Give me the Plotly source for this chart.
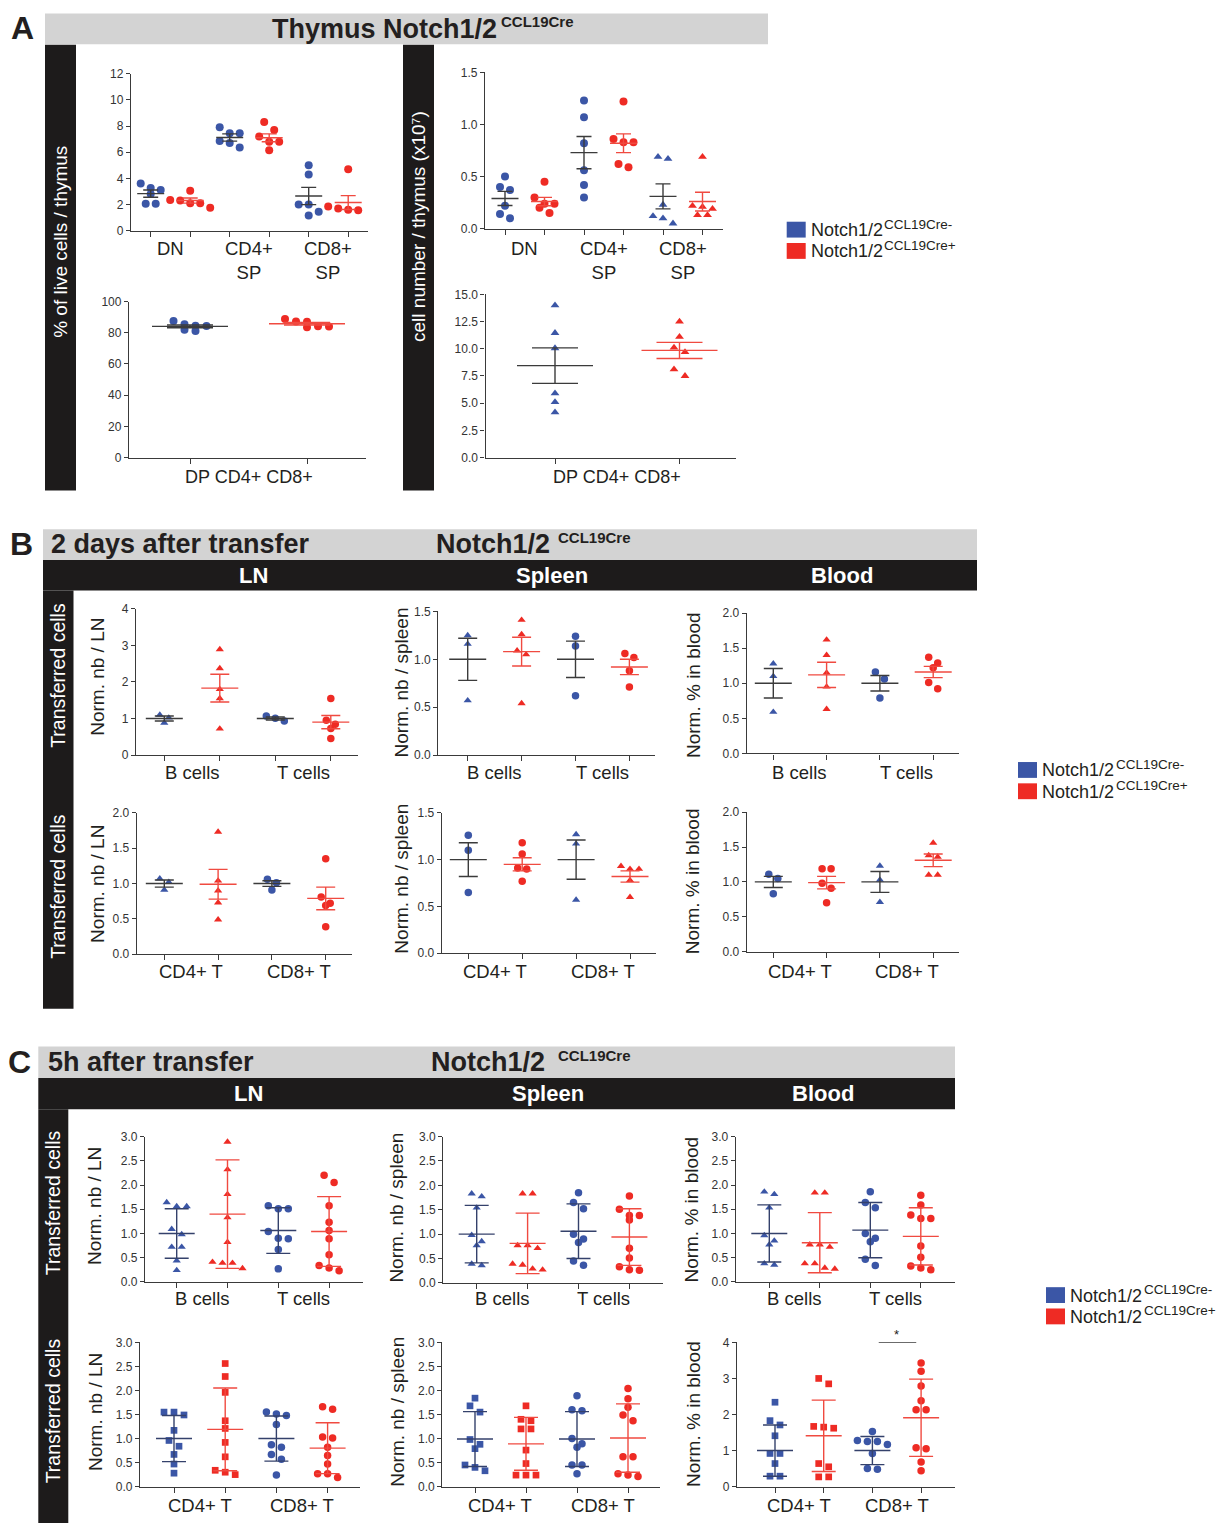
import plotly.graph_objects as go

W, H = 1228, 1530

# ------------------------------------------------------------------
# Data: Notch1/2 CCL19Cre- ("neg") vs Notch1/2 CCL19Cre+ ("pos")
# Each list holds one inner list of animals per category.
# ------------------------------------------------------------------

# A - thymus (mean +/- SEM)
thy_cats = ["DN", "CD4+<br>SP", "CD8+<br>SP"]
thy_pct_ticks = [0, 2, 4, 6, 8, 10, 12]
thy_pct_neg = [[3.6, 3.25, 3.1, 2.8, 2.05, 2.05],
               [7.9, 7.45, 7.45, 6.85, 6.7, 6.35],
               [5.0, 4.3, 2.0, 2.0, 1.45, 1.15]]
thy_pct_pos = [[3.05, 2.35, 2.3, 2.1, 2.1, 1.75],
               [8.3, 7.7, 7.2, 6.8, 6.8, 6.15],
               [4.7, 1.85, 1.7, 1.6, 1.55, 1.45]]
thy_pct_neg_mean = [2.83, 7.12, 2.65]
thy_pct_neg_err = [0.28, 0.28, 0.66]
thy_pct_pos_mean = [2.3, 7.1, 2.15]
thy_pct_pos_err = [0.2, 0.3, 0.53]

thy_num_ticks = [0.0, 0.5, 1.0, 1.5]
thy_num_neg = [[0.50, 0.40, 0.37, 0.22, 0.14, 0.10],
               [1.23, 1.07, 0.82, 0.56, 0.42, 0.30],
               [0.69, 0.67, 0.23, 0.12, 0.10, 0.05]]
thy_num_pos = [[0.45, 0.30, 0.24, 0.24, 0.20, 0.15],
               [1.22, 0.86, 0.83, 0.83, 0.62, 0.59],
               [0.69, 0.22, 0.21, 0.19, 0.13, 0.13]]
thy_num_neg_mean = [0.29, 0.73, 0.31]
thy_num_neg_err = [0.068, 0.155, 0.12]
thy_num_pos_mean = [0.26, 0.82, 0.26]
thy_num_pos_err = [0.04, 0.09, 0.09]

dp_cats = ["DP CD4+ CD8+"]
dp_pct_ticks = [0, 20, 40, 60, 80, 100]
dp_pct_neg = [[87.5, 85.5, 84.5, 84.3, 82.0, 81.2]]
dp_pct_pos = [[88.8, 87.2, 87.0, 84.2, 84.0, 83.5]]
dp_pct_neg_mean = [84.1]
dp_pct_neg_err = [0.9]
dp_pct_pos_mean = [85.8]
dp_pct_pos_err = [0.8]

dp_num_ticks = [0.0, 2.5, 5.0, 7.5, 10.0, 12.5, 15.0]
dp_num_neg = [[14.0, 11.45, 10.05, 5.9, 5.1, 4.15]]
dp_num_pos = [[12.5, 11.1, 10.1, 9.7, 8.1, 7.5]]
dp_num_neg_mean = [8.45]
dp_num_neg_err = [1.63]
dp_num_pos_mean = [9.85]
dp_num_pos_err = [0.74]

# B - 2 days after transfer (mean +/- SEM)
bt_cats = ["B cells", "T cells"]
cd_cats = ["CD4+ T", "CD8+ T"]
ticks_0_4 = [0, 1, 2, 3, 4]
ticks_0_15 = [0.0, 0.5, 1.0, 1.5]
ticks_0_2 = [0.0, 0.5, 1.0, 1.5, 2.0]
ticks_0_3 = [0.0, 0.5, 1.0, 1.5, 2.0, 2.5, 3.0]

d2_ln_bt_neg = [[1.10, 1.02, 0.88], [1.07, 1.01, 0.93]]
d2_ln_bt_pos = [[2.89, 2.37, 1.80, 1.55, 0.72], [1.55, 0.95, 0.84, 0.73, 0.45]]
d2_ln_bt_neg_mean = [1.0, 1.0]
d2_ln_bt_neg_err = [0.07, 0.04]
d2_ln_bt_pos_mean = [1.83, 0.90]
d2_ln_bt_pos_err = [0.38, 0.18]

d2_spl_bt_neg = [[1.25, 1.16, 0.57], [1.24, 1.14, 0.62]]
d2_spl_bt_pos = [[1.41, 1.26, 1.09, 1.05, 0.54], [1.06, 1.02, 0.88, 0.71]]
d2_spl_bt_neg_mean = [1.0, 1.0]
d2_spl_bt_neg_err = [0.22, 0.19]
d2_spl_bt_pos_mean = [1.08, 0.92]
d2_spl_bt_pos_err = [0.15, 0.08]

d2_bld_bt_neg = [[1.28, 1.10, 0.59], [1.16, 1.06, 0.79]]
d2_bld_bt_pos = [[1.62, 1.40, 1.15, 0.95, 0.63], [1.37, 1.29, 1.22, 1.01, 0.92]]
d2_bld_bt_neg_mean = [1.0, 1.0]
d2_bld_bt_neg_err = [0.21, 0.11]
d2_bld_bt_pos_mean = [1.12, 1.16]
d2_bld_bt_pos_err = [0.18, 0.08]

d2_ln_cd_neg = [[1.07, 1.02, 0.91], [1.06, 1.01, 0.91]]
d2_ln_cd_pos = [[1.73, 1.04, 0.90, 0.73, 0.49], [1.35, 0.81, 0.72, 0.69, 0.39]]
d2_ln_cd_neg_mean = [1.0, 1.0]
d2_ln_cd_neg_err = [0.05, 0.04]
d2_ln_cd_pos_mean = [0.99, 0.79]
d2_ln_cd_pos_err = [0.21, 0.16]

d2_spl_cd_neg = [[1.26, 1.10, 0.65], [1.27, 1.17, 0.57]]
d2_spl_cd_pos = [[1.18, 1.06, 0.91, 0.90, 0.77], [0.93, 0.90, 0.90, 0.78, 0.60]]
d2_spl_cd_neg_mean = [1.0, 1.0]
d2_spl_cd_neg_err = [0.18, 0.21]
d2_spl_cd_pos_mean = [0.95, 0.82]
d2_spl_cd_pos_err = [0.07, 0.06]

d2_bld_cd_neg = [[1.11, 1.05, 0.83], [1.23, 1.03, 0.71]]
d2_bld_cd_pos = [[1.19, 1.19, 0.98, 0.91, 0.70], [1.56, 1.38, 1.36, 1.10, 1.10]]
d2_bld_cd_neg_mean = [1.0, 1.0]
d2_bld_cd_neg_err = [0.08, 0.15]
d2_bld_cd_pos_mean = [0.99, 1.31]
d2_bld_cd_pos_err = [0.09, 0.09]

# C - 5 h after transfer (mean +/- SD)
h5_ln_bt_neg = [[1.64, 1.56, 1.56, 1.09, 0.98, 0.72, 0.72, 0.44, 0.24],
                [1.57, 1.51, 1.51, 1.04, 0.90, 0.89, 0.67, 0.27]]
h5_ln_bt_pos = [[2.89, 2.32, 1.81, 1.33, 0.82, 0.41, 0.39, 0.39, 0.28],
                [2.20, 2.05, 1.57, 1.23, 1.06, 0.89, 0.56, 0.34, 0.29, 0.23]]
h5_ln_bt_neg_mean = [1.0, 1.06]
h5_ln_bt_neg_err = [0.51, 0.47]
h5_ln_bt_pos_mean = [1.40, 1.04]
h5_ln_bt_pos_err = [1.12, 0.72]

h5_spl_bt_neg = [[1.83, 1.77, 1.54, 0.98, 0.85, 0.77, 0.39, 0.36],
                 [1.85, 1.65, 1.52, 1.00, 0.90, 0.83, 0.45, 0.36]]
h5_spl_bt_pos = [[1.83, 1.83, 0.77, 0.77, 0.71, 0.39, 0.37, 0.29, 0.27],
                 [1.78, 1.51, 1.38, 1.38, 1.29, 0.71, 0.51, 0.33, 0.27, 0.26]]
h5_spl_bt_neg_mean = [1.0, 1.06]
h5_spl_bt_neg_err = [0.59, 0.56]
h5_spl_bt_pos_mean = [0.81, 0.94]
h5_spl_bt_pos_err = [0.62, 0.58]

h5_bld_bt_neg = [[1.86, 1.81, 1.53, 0.96, 0.85, 0.77, 0.38, 0.35],
                 [1.86, 1.64, 1.53, 1.00, 0.90, 0.83, 0.47, 0.34]]
h5_bld_bt_pos = [[1.84, 1.84, 0.77, 0.77, 0.72, 0.38, 0.38, 0.29, 0.27],
                 [1.79, 1.59, 1.38, 1.31, 1.31, 0.74, 0.51, 0.33, 0.29, 0.25]]
h5_bld_bt_neg_mean = [1.0, 1.07]
h5_bld_bt_neg_err = [0.59, 0.57]
h5_bld_bt_pos_mean = [0.81, 0.94]
h5_bld_bt_pos_err = [0.62, 0.59]

h5_ln_cd_neg = [[1.55, 1.55, 1.49, 1.17, 0.96, 0.84, 0.67, 0.47, 0.28],
                [1.55, 1.51, 1.48, 1.29, 0.87, 0.82, 0.67, 0.57, 0.24]]
h5_ln_cd_pos = [[2.56, 2.29, 1.96, 1.37, 1.21, 0.92, 0.62, 0.34, 0.30, 0.25],
                [1.66, 1.61, 1.03, 1.01, 0.82, 0.65, 0.47, 0.27, 0.27, 0.19]]
h5_ln_cd_neg_mean = [1.0, 1.0]
h5_ln_cd_neg_err = [0.48, 0.47]
h5_ln_cd_pos_mean = [1.19, 0.80]
h5_ln_cd_pos_err = [0.86, 0.53]

h5_spl_cd_neg = [[1.84, 1.68, 1.55, 0.98, 0.88, 0.79, 0.45, 0.40, 0.33],
                 [1.89, 1.60, 1.58, 1.00, 0.89, 0.82, 0.45, 0.45, 0.27]]
h5_spl_cd_pos = [[1.68, 1.40, 1.37, 1.20, 1.20, 0.76, 0.48, 0.24, 0.24, 0.24],
                 [2.04, 1.83, 1.65, 1.49, 1.37, 0.62, 0.62, 0.27, 0.24, 0.21]]
h5_spl_cd_neg_mean = [0.99, 0.99]
h5_spl_cd_neg_err = [0.57, 0.57]
h5_spl_cd_pos_mean = [0.89, 1.01]
h5_spl_cd_pos_err = [0.55, 0.71]

h5_bld_cd_ticks = [0, 1, 2, 3, 4]
h5_bld_cd_neg = [[2.34, 1.83, 1.71, 1.41, 0.92, 0.92, 0.64, 0.29, 0.29],
                 [1.53, 1.28, 1.25, 1.25, 1.17, 0.92, 0.50, 0.48]]
h5_bld_cd_pos = [[3.00, 2.85, 1.67, 1.65, 1.62, 0.64, 0.55, 0.27, 0.27],
                 [3.43, 3.20, 2.79, 2.38, 2.13, 2.13, 1.08, 1.05, 0.68, 0.44]]
h5_bld_cd_neg_mean = [1.0, 1.0]
h5_bld_cd_neg_err = [0.71, 0.39]
h5_bld_cd_pos_mean = [1.41, 1.91]
h5_bld_cd_pos_err = [0.99, 1.07]

legend_labels = ["Notch1/2", "Notch1/2"]
legend_sups = ["CCL19Cre-", "CCL19Cre+"]

# ------------------------------------------------------------------
# Styling
# ------------------------------------------------------------------
FONT = "Liberation Sans, Arial, Helvetica, sans-serif"
INK = "#231f20"
AXIS = "#3a3a3a"
BLUE = "#3b56a6"
RED = "#ee2b24"
BAND_GRAY = "#d3d3d3"
BAND_BLACK = "#1d1b1b"

STYLE_A_TOP = dict(msize=8, dx=10, hw=13.5, cap=7.5, neg_line="#3b3b3b", pos_line="#f04a40", lw=1.4)
STYLE_A_BOT = dict(msize=8, dx=11, hw=38, cap=23, neg_line="#3b3b3b", pos_line="#f04a40", lw=1.4)
STYLE_B = dict(msize=7.5, dx=9, hw=18.5, cap=9.5, neg_line="#3b3b3b", pos_line="#f04a40", lw=1.4)
STYLE_C = dict(msize=7.5, dx=10, hw=18, cap=12, neg_line="#34416b", pos_line="#f04a40", lw=1.4)
SYM_ADJ = {"circle": 0.0, "triangle-up": -0.3, "square": -0.8}


def X(p):
    return p / W


def Y(p):
    return 1 - p / H


fig = go.Figure()
shapes = []
annos = []
n_axes = [0]


def swarm(vals, step, thr):
    """Column-scatter offsets: points closer than thr in y share a row."""
    order = sorted(range(len(vals)), key=lambda i: -vals[i])
    rows = []
    for i in order:
        if rows and rows[-1][0] - vals[i] < thr:
            rows[-1][1].append(i)
        else:
            rows.append([vals[i], [i]])
    off = [0.0] * len(vals)
    for _, idx in rows:
        n = len(idx)
        for k, i in enumerate(idx):
            off[i] = (k - (n - 1) / 2) * step
    return off


def text(x, y, s, size, color=INK, bold=False, angle=0, xanchor="center", yanchor="middle"):
    if bold:
        s = "<b>" + s + "</b>"
    annos.append(dict(x=X(x), y=Y(y), xref="paper", yref="paper", text=s, showarrow=False,
                      textangle=angle, xanchor=xanchor, yanchor=yanchor,
                      font=dict(family=FONT, size=size, color=color)))


def rect(x0, y0, x1, y1, color):
    shapes.append(dict(type="rect", xref="paper", yref="paper", x0=X(x0), x1=X(x1),
                       y0=Y(y1), y1=Y(y0), fillcolor=color, line=dict(width=0), layer="below"))


def add_plot(box, t0, sp, yticks, decimals, cats, neg, pos, neg_m, neg_e, pos_m, pos_e,
             symbols, st, cat_y, cat_anchor="middle", cat_size=18.5):
    n_axes[0] += 1
    n = n_axes[0]
    xs = "x" if n == 1 else f"x{n}"
    ys = "y" if n == 1 else f"y{n}"
    L, T, R, B = box
    yr = [yticks[0], yticks[-1]]
    ppu = (B - T) / (yr[1] - yr[0])
    npos = 2 * len(cats)
    fig.update_layout(**{
        ("xaxis" if n == 1 else f"xaxis{n}"): dict(
            domain=[X(L), X(R)], range=[(L - t0) / sp, (R - t0) / sp], anchor=ys,
            tickvals=list(range(npos)), showticklabels=False, ticks="outside", ticklen=5,
            tickwidth=1.2, tickcolor=AXIS, showline=True, linecolor=AXIS, linewidth=1.3,
            showgrid=False, zeroline=False, fixedrange=True),
        ("yaxis" if n == 1 else f"yaxis{n}"): dict(
            domain=[Y(B), Y(T)], range=yr, anchor=xs, tickvals=yticks,
            ticktext=[f"{v:.{decimals}f}" for v in yticks], ticks="outside", ticklen=4,
            tickwidth=1.2, tickcolor=AXIS, showline=True, linecolor=AXIS, linewidth=1.3,
            showgrid=False, zeroline=False, fixedrange=True,
            tickfont=dict(family=FONT, size=12, color="#333333")),
    })
    for k in range(len(cats)):
        sym = symbols[k]
        size = st["msize"] + SYM_ADJ[sym]
        groups = [(neg[k], neg_m[k], neg_e[k], BLUE, st["neg_line"]),
                  (pos[k], pos_m[k], pos_e[k], RED, st["pos_line"])]
        for j, (vals, m, e, col, lcol) in enumerate(groups):
            p = 2 * k + j
            off = swarm(vals, st["dx"] / sp, size / ppu)
            fig.add_trace(go.Scatter(
                x=[p + o for o in off], y=vals, mode="markers", xaxis=xs, yaxis=ys,
                marker=dict(symbol=sym, size=size, color=col, line=dict(width=0)),
                cliponaxis=False, hoverinfo="skip", showlegend=False))
            hw = st["hw"] / sp
            fig.add_trace(go.Scatter(
                x=[p - hw, p + hw], y=[m, m], mode="lines", xaxis=xs, yaxis=ys,
                line=dict(color=lcol, width=st["lw"]), cliponaxis=False,
                hoverinfo="skip", showlegend=False))
            fig.add_trace(go.Scatter(
                x=[p], y=[m], mode="markers", xaxis=xs, yaxis=ys,
                marker=dict(size=1, color="rgba(0,0,0,0)"),
                error_y=dict(type="data", array=[e], symmetric=True, color=lcol,
                             thickness=st["lw"], width=st["cap"]),
                cliponaxis=False, hoverinfo="skip", showlegend=False))
        annos.append(dict(x=2 * k + 0.5, xref=xs, y=Y(cat_y), yref="paper", text=cats[k],
                          showarrow=False, xanchor="center", yanchor=cat_anchor,
                          font=dict(family=FONT, size=cat_size, color=INK)))
    return xs, ys


def add_legend(x, y_top):
    for i, col in enumerate([BLUE, RED]):
        y0 = y_top + i * 21.5
        rect(x, y0, x + 19, y0 + 16, col)
        text(x + 22, y0 + 8.5, legend_labels[i], 18, xanchor="left")
        text(x + 95.5, y0 + 2.5, legend_sups[i], 13.5, xanchor="left")


# ------------------------------------------------------------------
# Panel A - thymus
# ------------------------------------------------------------------
rect(45, 6.5, 768, 37.5, BAND_GRAY)
rect(45, 38, 76, 488, BAND_BLACK)
rect(403, 38, 434, 488, BAND_BLACK)
text(22, 21, "A", 32, bold=True)
text(270, 22, "Thymus Notch1/2", 27, bold=True, xanchor="left")
text(499, 15, "CCL19Cre", 15, bold=True, xanchor="left")
text(61, 237, "% of live cells / thymus", 19, color="white", angle=-90)
text(419, 222, "cell number / thymus (x10\u2077)", 19, color="white", angle=-90)

circ3 = ["circle", "circle", "circle"]
add_plot((131, 67.3, 368, 225.7), 150.7, 39.5, thy_pct_ticks, 0, thy_cats,
         thy_pct_neg, thy_pct_pos, thy_pct_neg_mean, thy_pct_neg_err,
         thy_pct_pos_mean, thy_pct_pos_err, circ3, STYLE_A_TOP, 231, "top")
add_plot((485, 66, 723, 223.7), 505, 39.5, thy_num_ticks, 1, thy_cats,
         thy_num_neg, thy_num_pos, thy_num_neg_mean, thy_num_neg_err,
         thy_num_pos_mean, thy_num_pos_err, ["circle", "circle", "triangle-up"],
         STYLE_A_TOP, 231, "top")
add_plot((129, 297.3, 366, 454.7), 190, 117, dp_pct_ticks, 0, dp_cats,
         dp_pct_neg, dp_pct_pos, dp_pct_neg_mean, dp_pct_neg_err,
         dp_pct_pos_mean, dp_pct_pos_err, ["circle"], STYLE_A_BOT, 474, cat_size=18)
add_plot((485.5, 290, 736, 454.7), 555, 124.5, dp_num_ticks, 1, dp_cats,
         dp_num_neg, dp_num_pos, dp_num_neg_mean, dp_num_neg_err,
         dp_num_pos_mean, dp_num_pos_err, ["triangle-up"], STYLE_A_BOT, 474, cat_size=18)
add_legend(786.7, 216.7)

# ------------------------------------------------------------------
# Panel B - 2 days after transfer
# ------------------------------------------------------------------
rect(43, 527, 977, 558, BAND_GRAY)
rect(43, 558, 977, 589, BAND_BLACK)
rect(43, 589, 73.5, 1011, BAND_BLACK)
text(21, 542, "B", 32, bold=True)
text(49, 542, "2 days after transfer", 27, bold=True, xanchor="left")
text(434, 542, "Notch1/2", 27, bold=True, xanchor="left")
text(556, 535, "CCL19Cre", 15, bold=True, xanchor="left")
for lx, lab in [(253, "LN"), (551.7, "Spleen"), (842.3, "Blood")]:
    text(lx, 574, lab, 22, color="white", bold=True)
text(58, 675, "Transferred cells", 19.5, color="white", angle=-90)
text(58, 888, "Transferred cells", 19.5, color="white", angle=-90)

tri_circ = ["triangle-up", "circle"]
add_plot((136, 607.3, 358, 755), 164.3, 55.5, ticks_0_4, 0, bt_cats,
         d2_ln_bt_neg, d2_ln_bt_pos, d2_ln_bt_neg_mean, d2_ln_bt_neg_err,
         d2_ln_bt_pos_mean, d2_ln_bt_pos_err, tri_circ, STYLE_B, 773)
add_plot((438.3, 610, 655, 755), 467.7, 53.9, ticks_0_15, 1, bt_cats,
         d2_spl_bt_neg, d2_spl_bt_pos, d2_spl_bt_neg_mean, d2_spl_bt_neg_err,
         d2_spl_bt_pos_mean, d2_spl_bt_pos_err, tri_circ, STYLE_B, 773)
add_plot((746.7, 611.7, 959.3, 753.3), 773.3, 53.3, ticks_0_2, 1, bt_cats,
         d2_bld_bt_neg, d2_bld_bt_pos, d2_bld_bt_neg_mean, d2_bld_bt_neg_err,
         d2_bld_bt_pos_mean, d2_bld_bt_pos_err, tri_circ, STYLE_B, 773)
add_plot((136.7, 813.3, 351.7, 956), 164.3, 53.8, ticks_0_2, 1, cd_cats,
         d2_ln_cd_neg, d2_ln_cd_pos, d2_ln_cd_neg_mean, d2_ln_cd_neg_err,
         d2_ln_cd_pos_mean, d2_ln_cd_pos_err, tri_circ, STYLE_B, 973)
add_plot((441.7, 813.3, 656, 955), 468.3, 53.9, ticks_0_15, 1, cd_cats,
         d2_spl_cd_neg, d2_spl_cd_pos, d2_spl_cd_neg_mean, d2_spl_cd_neg_err,
         d2_spl_cd_pos_mean, d2_spl_cd_pos_err, ["circle", "triangle-up"], STYLE_B, 973)
add_plot((746.7, 812.7, 959.3, 953.3), 773.3, 53.3, ticks_0_2, 1, cd_cats,
         d2_bld_cd_neg, d2_bld_cd_pos, d2_bld_cd_neg_mean, d2_bld_cd_neg_err,
         d2_bld_cd_pos_mean, d2_bld_cd_pos_err, ["circle", "triangle-up"], STYLE_B, 973)

for ty, yy in [("Norm. nb / LN", (98, 676)), ("Norm. nb / spleen", (401.7, 682)),
               ("Norm. % in blood", (693.3, 684)), ("Norm. nb / LN", (98, 885)),
               ("Norm. nb / spleen", (401.7, 880)), ("Norm. % in blood", (693.3, 882))]:
    text(yy[0], yy[1], ty, 19, angle=-90)
add_legend(1018, 762)

# ------------------------------------------------------------------
# Panel C - 5 h after transfer
# ------------------------------------------------------------------
rect(38.3, 1049, 955, 1081, BAND_GRAY)
rect(38.3, 1081, 955, 1112.5, BAND_BLACK)
rect(38.3, 1112.5, 68.3, 1530, BAND_BLACK)
text(19, 1065, "C", 32, bold=True)
text(46, 1065, "5h after transfer", 27, bold=True, xanchor="left")
text(429, 1065, "Notch1/2", 27, bold=True, xanchor="left")
text(556, 1058, "CCL19Cre", 15, bold=True, xanchor="left")
for lx, lab in [(248.3, "LN"), (548.3, "Spleen"), (822.7, "Blood")]:
    text(lx, 1097, lab, 22, color="white", bold=True)
text(53.3, 1207, "Transferred cells", 19.5, color="white", angle=-90)
text(53.3, 1417, "Transferred cells", 19.5, color="white", angle=-90)

sq_circ = ["square", "circle"]
add_plot((145, 1140, 363.3, 1286.7), 176.7, 50.8, ticks_0_3, 1, bt_cats,
         h5_ln_bt_neg, h5_ln_bt_pos, h5_ln_bt_neg_mean, h5_ln_bt_neg_err,
         h5_ln_bt_pos_mean, h5_ln_bt_pos_err, tri_circ, STYLE_C, 1303)
add_plot((443.3, 1140, 663.3, 1287.7), 476.7, 50.9, ticks_0_3, 1, bt_cats,
         h5_spl_bt_neg, h5_spl_bt_pos, h5_spl_bt_neg_mean, h5_spl_bt_neg_err,
         h5_spl_bt_pos_mean, h5_spl_bt_pos_err, tri_circ, STYLE_C, 1303)
add_plot((735.7, 1140, 955, 1286.7), 769.3, 50.5, ticks_0_3, 1, bt_cats,
         h5_bld_bt_neg, h5_bld_bt_pos, h5_bld_bt_neg_mean, h5_bld_bt_neg_err,
         h5_bld_bt_pos_mean, h5_bld_bt_pos_err, tri_circ, STYLE_C, 1303)
add_plot((140, 1347.7, 360, 1493.3), 174, 51.2, ticks_0_3, 1, cd_cats,
         h5_ln_cd_neg, h5_ln_cd_pos, h5_ln_cd_neg_mean, h5_ln_cd_neg_err,
         h5_ln_cd_pos_mean, h5_ln_cd_pos_err, sq_circ, STYLE_C, 1512)
add_plot((442.3, 1347.7, 660, 1493.3), 475, 51, ticks_0_3, 1, cd_cats,
         h5_spl_cd_neg, h5_spl_cd_pos, h5_spl_cd_neg_mean, h5_spl_cd_neg_err,
         h5_spl_cd_pos_mean, h5_spl_cd_pos_err, sq_circ, STYLE_C, 1512)
bx, by = add_plot((737, 1347.7, 955, 1493.3), 775, 48.7, h5_bld_cd_ticks, 0, cd_cats,
                  h5_bld_cd_neg, h5_bld_cd_pos, h5_bld_cd_neg_mean, h5_bld_cd_neg_err,
                  h5_bld_cd_pos_mean, h5_bld_cd_pos_err, sq_circ, STYLE_C, 1512)

# significance bar between CD8+ T groups in blood
fig.add_trace(go.Scatter(x=[2.13, 2.9], y=[4.0, 4.0], mode="lines", xaxis=bx, yaxis=by,
                         line=dict(color=AXIS, width=1.2), cliponaxis=False,
                         hoverinfo="skip", showlegend=False))
annos.append(dict(x=2.5, y=4.0, xref=bx, yref=by, text="*", showarrow=False,
                  yanchor="bottom", yshift=-2, font=dict(family=FONT, size=13, color=INK)))

for ty, yy in [("Norm. nb / LN", (95, 1210)), ("Norm. nb / spleen", (396.7, 1212)),
               ("Norm. % in blood", (691.7, 1214)), ("Norm. nb / LN", (95, 1418)),
               ("Norm. nb / spleen", (396.7, 1418)), ("Norm. % in blood", (693, 1420))]:
    text(yy[0], yy[1], ty, 19, angle=-90)
add_legend(1046, 1292)

fig.update_layout(
    width=W, height=H, margin=dict(l=0, r=0, t=0, b=0),
    paper_bgcolor="white", plot_bgcolor="rgba(0,0,0,0)",
    showlegend=False, shapes=shapes, annotations=annos,
    font=dict(family=FONT, color=INK),
)

fig.write_html("out.html")
